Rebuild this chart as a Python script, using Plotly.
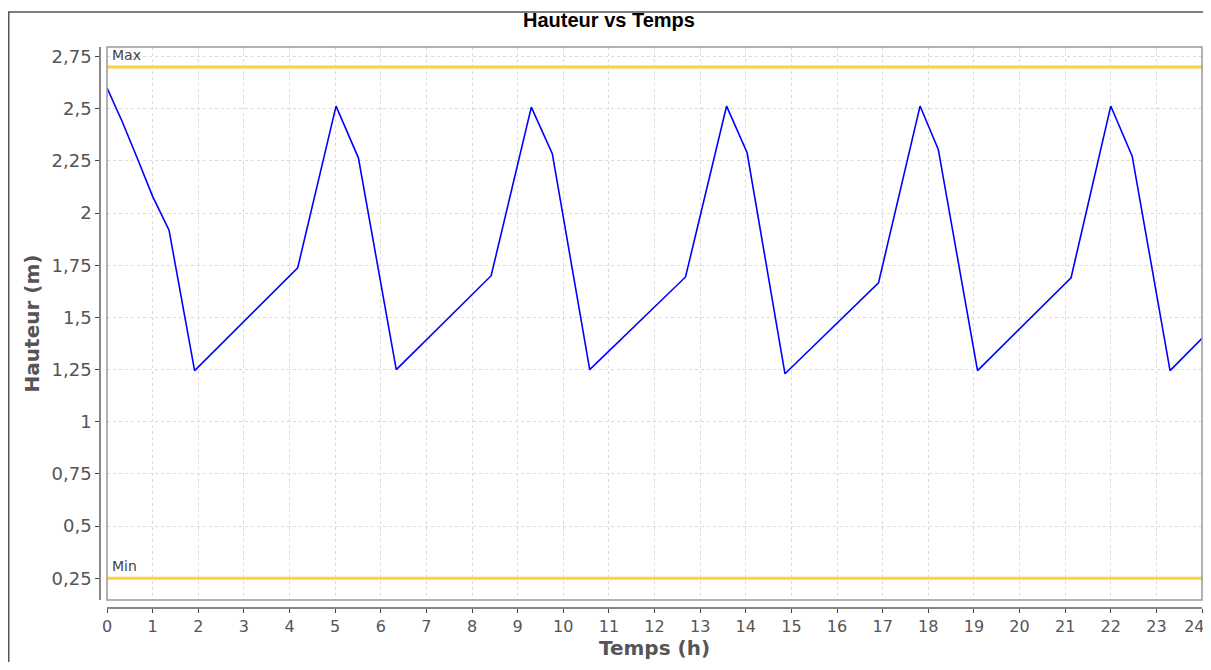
import plotly.graph_objects as go

# Data
temps = [0, 0.33, 0.66, 1.0, 1.36, 1.92, 4.18, 5.02, 5.51, 6.34, 8.42, 9.30, 9.76,
         10.58, 12.68, 13.58, 14.03, 14.86, 16.91, 17.82, 18.22, 19.08, 21.13, 22.0,
         22.47, 23.30, 24.0]
hauteur = [2.60, 2.44, 2.265, 2.08, 1.918, 1.245, 1.738, 2.513, 2.265, 1.25, 1.70,
           2.508, 2.285, 1.25, 1.694, 2.513, 2.289, 1.23, 1.666, 2.513, 2.305, 1.245,
           1.69, 2.513, 2.273, 1.245, 1.40]
niveau_max = 2.7
niveau_min = 0.25
x_ticks = list(range(0, 25))
y_ticks = [0.25, 0.5, 0.75, 1.0, 1.25, 1.5, 1.75, 2.0, 2.25, 2.5, 2.75]

# last x label nudged left (trailing non-breaking spaces) so it is not clipped at the edge
x_ticktext = [str(t) for t in x_ticks]
x_ticktext[-1] = x_ticktext[-1] + "\u00a0\u00a0\u00a0"

# page body has an 8px default margin; keep the page free of scrollbars
W, H = 1203, 654
ML, MR, MT, MB = 92, 9, 39, 54
plot_w = W - ML - MR
plot_h = H - MT - MB
off = 7

fig = go.Figure()
gold = "#FFD23A"
fig.add_trace(go.Scatter(x=[0, 24], y=[niveau_max, niveau_max], mode="lines",
                         line=dict(color=gold, width=3), hoverinfo="skip"))
fig.add_trace(go.Scatter(x=[0, 24], y=[niveau_min, niveau_min], mode="lines",
                         line=dict(color=gold, width=3), hoverinfo="skip"))
fig.add_trace(go.Scatter(x=temps, y=hauteur, mode="lines",
                         line=dict(color="#0000FF", width=1.6)))

xtickfont = dict(family="DejaVu Sans", size=16, color="#555555")
ytickfont = dict(family="DejaVu Sans", size=18, color="#555555")
titlefont = dict(family="DejaVu Sans", size=20, color="#555555", weight="bold")

grid = dict(showgrid=True, gridcolor="#DADADA", griddash="3px,3px", gridwidth=1)

fig.update_layout(
    width=W, height=H,
    margin=dict(l=ML, r=MR, t=MT, b=MB, pad=0, autoexpand=False),
    paper_bgcolor="white", plot_bgcolor="white",
    showlegend=False,
    separators=", ",
    title=dict(text="<b>Hauteur vs Temps</b>", x=601 / W, xref="container",
               y=1 - 12 / H, yref="container", xanchor="center", yanchor="middle",
               font=dict(family="Liberation Sans", size=20, color="#000000")),
    xaxis=dict(range=[0, 24], tickvals=x_ticks, ticktext=x_ticktext,
               domain=[off / plot_w, 1],
               anchor="free", position=0, automargin=False,
               ticklabeloverflow="allow",
               showline=True, linecolor="#888888", linewidth=1.5,
               ticks="outside", ticklen=4, tickcolor="#444444",
               zeroline=False, tickfont=xtickfont,
               title=dict(text="Temps (h)", font=titlefont, standoff=4), **grid),
    yaxis=dict(range=[0.146, 2.796], tickvals=y_ticks, domain=[(off + 1) / plot_h, 1],
               anchor="free", position=0, automargin=False,
               ticklabeloverflow="allow",
               showline=True, linecolor="#888888", linewidth=1.5,
               ticks="outside", ticklen=4, tickcolor="#444444",
               zeroline=False, tickfont=ytickfont,
               title=dict(text="Hauteur (m)", font=titlefont, standoff=6), **grid),
)

# plot border
fig.add_shape(type="rect", xref="x domain", yref="y domain", x0=0, x1=1, y0=0, y1=1,
              line=dict(color="#999999", width=1.5), fillcolor="rgba(0,0,0,0)", layer="above")
# outer chart border (its right and bottom sides lie beyond the visible area)
fig.add_shape(type="rect", xref="paper", yref="paper",
              x0=(0.75 - ML) / plot_w, x1=(W + 10 - ML) / plot_w,
              y0=-(H + 10 - (H - MB)) / plot_h, y1=(H - MB - 4) / plot_h,
              line=dict(color="#555555", width=1.5), fillcolor="rgba(0,0,0,0)")

for label, val in (("Max", niveau_max), ("Min", niveau_min)):
    fig.add_annotation(x=0, y=val, xref="x", yref="y", text=label, showarrow=False,
                       xanchor="left", yanchor="bottom", xshift=3, yshift=2,
                       font=dict(family="DejaVu Sans", size=14, color="#444444"))

fig.write_html("out.html")
